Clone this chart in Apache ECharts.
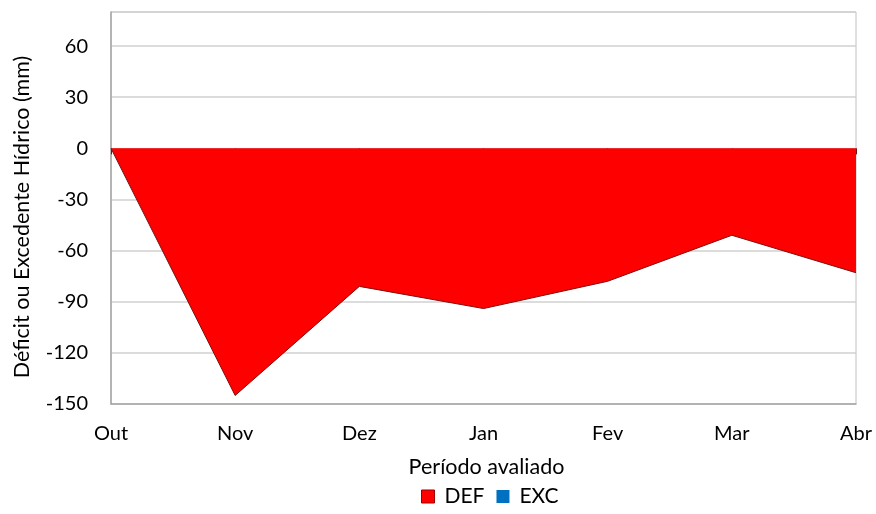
<!DOCTYPE html>
<html>
<head>
<meta charset="utf-8">
<script src="https://cdn.jsdelivr.net/npm/echarts@6/dist/echarts.min.js"></script>
<style>html,body{margin:0;padding:0;background:#fff}#c{width:876px;height:514px}</style>
</head>
<body>
<div id="c"></div>
<script>
const categories = ['Out', 'Nov', 'Dez', 'Jan', 'Fev', 'Mar', 'Abr'];
const defValues = [0, -145, -81, -94, -78, -51, -73];
const excValues = [0, 0, 0, 0, 0, 0, 0];
const yTicks = { min: -150, max: 80, interval: 30 };
const seriesNames = ['DEF', 'EXC'];

const FONT = 'Lato';
const chart = echarts.init(document.getElementById('c'), null, { renderer: 'canvas' });
chart.setOption({
  animation: false,
  textStyle: { fontFamily: FONT },
  grid: { left: 111, right: 20, top: 12, bottom: 110, show: true, borderColor: '#c0c0c0', borderWidth: 1, backgroundColor: 'transparent' },
  legend: {
    bottom: 2, left: 416, icon: 'rect', itemWidth: 13, itemHeight: 13, itemGap: 12,
    textStyle: { fontFamily: FONT, fontSize: 21, color: '#000', padding: [0, 0, 0, 5] },
    data: [
      { name: seriesNames[0], itemStyle: { color: '#ff0000', borderColor: '#9a0000', borderWidth: 1 } },
      { name: seriesNames[1], itemStyle: { color: '#0070c0', borderWidth: 0 } }
    ]
  },
  xAxis: [
    {
      type: 'category', data: categories, boundaryGap: false, position: 'bottom',
      axisLine: { onZero: false, lineStyle: { color: '#a6a6a6', width: 1.5 } },
      axisTick: { show: false },
      axisLabel: { fontFamily: FONT, fontSize: 20, color: '#000', margin: 20 },
      name: 'Período avaliado', nameLocation: 'middle', nameGap: 52,
      nameTextStyle: { fontFamily: FONT, fontSize: 21.5, color: '#000', padding: [0, 0, 0, 6] },
      splitLine: { show: false }
    },
    {
      type: 'category', data: categories, boundaryGap: false, position: 'top',
      axisLine: { onZero: true, lineStyle: { color: '#a6a6a6', width: 1.5 } },
      axisTick: { show: true, inside: true, length: 6, alignWithLabel: true, lineStyle: { color: '#7a1010' } },
      axisLabel: { show: false },
      splitLine: { show: false }
    }
  ],
  yAxis: {
    type: 'value', min: yTicks.min, max: yTicks.max, interval: yTicks.interval,
    axisLine: { show: true, lineStyle: { color: '#a6a6a6', width: 1.5 } },
    axisTick: { show: false },
    axisLabel: { fontFamily: FONT, fontSize: 20, color: '#000', margin: 23, showMaxLabel: false },
    splitLine: { lineStyle: { color: '#d0d0d0', width: 1.5 } },
    name: 'Déficit ou Excedente Hídrico (mm)', nameLocation: 'middle', nameGap: 78,
    nameTextStyle: { fontFamily: FONT, fontSize: 21.5, color: '#000', padding: [0, 18, 0, 0] }
  },
  series: [
    {
      name: seriesNames[0], type: 'line', data: defValues, symbol: 'none', xAxisIndex: 0,
      itemStyle: { color: '#ff0000' },
      lineStyle: { color: '#7a1010', width: 1 },
      areaStyle: { color: '#ff0000', opacity: 1, origin: 0 }
    },
    {
      name: seriesNames[1], type: 'line', data: excValues, symbol: 'none', xAxisIndex: 0,
      itemStyle: { color: '#0070c0' },
      lineStyle: { width: 0, opacity: 0 },
      areaStyle: { color: '#0070c0', opacity: 1, origin: 0 }
    }
  ]
});
</script>
</body>
</html>
